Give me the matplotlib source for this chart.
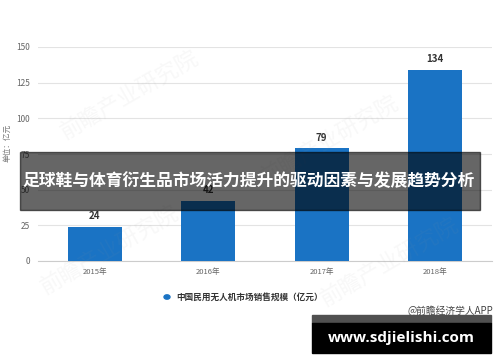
import matplotlib
matplotlib.use("Agg")
import matplotlib.pyplot as plt
from matplotlib.patches import Rectangle

plt.rcParams["font.family"] = ["Noto Sans CJK SC", "DejaVu Sans"]

years = ["2015年", "2016年", "2017年", "2018年"]
sales = [24, 42, 79, 134]
y_ticks = [0, 25, 50, 75, 100, 125, 150]

BAR_COLOR = "#1a73c4"
W, H = 500, 362

fig = plt.figure(figsize=(W / 100, H / 100), dpi=100)
ax = fig.add_axes([38 / W, 1 - 261 / H, (492 - 38) / W, (261 - 47) / H])

x = range(len(years))
bars = ax.bar(x, sales, width=0.475, color=BAR_COLOR, zorder=3)
for xi, v in zip(x, sales):
    ax.text(xi, v + 4, str(v), ha="center", va="bottom", fontsize=7,
            fontweight="bold", color="#333333", zorder=4)

ax.set_xlim(-0.5, len(years) - 0.5)
ax.set_ylim(0, 150)
ax.set_yticks(y_ticks)
ax.set_xticks(list(x))
ax.set_xticklabels(years)
ax.tick_params(axis="y", length=0, labelsize=6, labelcolor="#666666", pad=6)
ax.tick_params(axis="x", length=0, labelsize=5.5, labelcolor="#666666", pad=5)
ax.grid(axis="y", color="#e3e3e3", linewidth=0.8, zorder=0)
for side in ["top", "right", "left"]:
    ax.spines[side].set_visible(False)
ax.spines["bottom"].set_color("#cccccc")
ax.spines["bottom"].set_linewidth(0.8)

# y-axis unit
fig.text(7 / W, 1 - 143 / H, "单位：亿元", rotation=90, ha="center", va="center",
         fontsize=5.5, color="#777777")

# legend
fig.patches.append(plt.Circle((167 / W, 1 - 297 / H), 3 / W, transform=fig.transFigure,
                              color=BAR_COLOR))
fig.text(176 / W, 1 - 297 / H, "中国民用无人机市场销售规模（亿元）", ha="left", va="center",
         fontsize=6.2, fontweight="bold", color="#333333")

# watermarks
for wx, wy in [(130, 95), (330, 140), (110, 250), (390, 262)]:
    fig.text(wx / W, 1 - wy / H, "前瞻产业研究院", rotation=30, ha="center", va="center",
             fontsize=16, color="#999999", alpha=0.07)

# source
fig.text(493 / W, 1 - 311 / H, "@前瞻经济学人APP", ha="right", va="center",
         fontsize=7, color="#444444")

# title banner
fig.patches.append(Rectangle((20 / W, 1 - 210 / H), 460 / W, 58 / H,
                             transform=fig.transFigure, color="black", alpha=0.6, zorder=5))
fig.text(249 / W, 1 - 181 / H, "足球鞋与体育衍生品市场活力提升的驱动因素与发展趋势分析",
         ha="center", va="center", fontsize=12.1, fontweight="bold", color="white", zorder=6)

# site banner
fig.patches.append(Rectangle((312 / W, 1 - 323 / H), 179 / W, 8 / H,
                             transform=fig.transFigure, color="#505050", zorder=5))
fig.patches.append(Rectangle((312 / W, 1 - 353 / H), 179 / W, 30 / H,
                             transform=fig.transFigure, color="black", zorder=5))
fig.text(401 / W, 1 - 338 / H, "www.sdjielishi.com", ha="center", va="center",
         fontsize=11, fontweight="bold", color="white", family="Open Sans", zorder=6)

fig.savefig("out.png", dpi=100)
